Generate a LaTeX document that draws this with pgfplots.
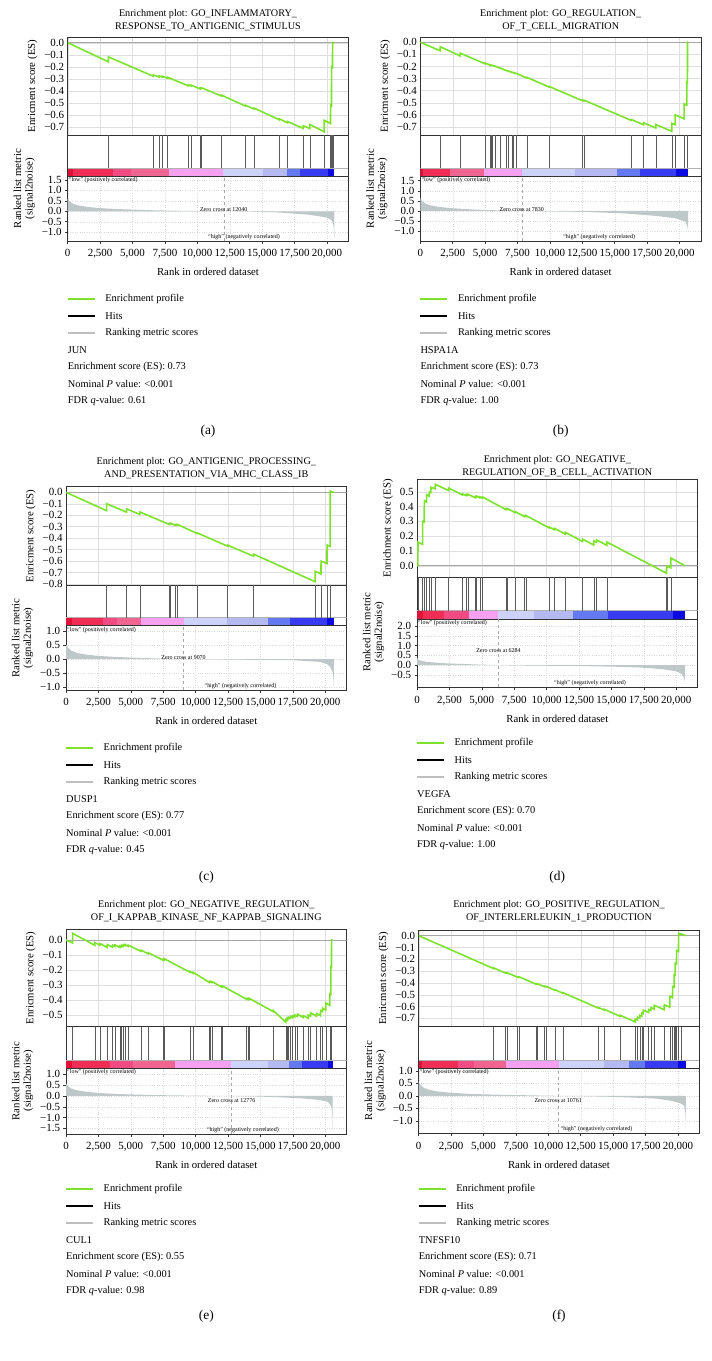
\documentclass[border=0pt]{standalone}
\usepackage{fontspec}
\setmainfont{Liberation Serif}
\usepackage{pgfplots}
\pgfplotsset{compat=1.18}

\definecolor{esgreen}{RGB}{124,226,44}
\definecolor{hitgray}{RGB}{90,90,90}
\definecolor{metgray}{RGB}{190,200,200}
\definecolor{c1}{RGB}{225,18,55}
\definecolor{c2}{RGB}{240,45,85}
\definecolor{c3}{RGB}{240,75,130}
\definecolor{c4}{RGB}{240,100,145}
\definecolor{c5}{RGB}{245,160,240}
\definecolor{c6}{RGB}{205,210,250}
\definecolor{c7}{RGB}{180,185,242}
\definecolor{c8}{RGB}{100,120,240}
\definecolor{c9}{RGB}{55,60,240}
\definecolor{c10}{RGB}{10,10,225}

\newcommand{\tkfont}{\fontsize{11}{12}\selectfont}
\newcommand{\lbfont}{\fontsize{10.8}{11.5}\selectfont}
\newcommand{\ttlfont}{\fontsize{10.2}{12.5}\selectfont}
\newcommand{\smfont}{\fontsize{6}{7}\selectfont}
\newcommand{\legfont}{\fontsize{10.4}{12}\selectfont}
\newcommand{\subfont}{\fontsize{13.5}{15}\selectfont}

\newcommand{\seg}[3]{\addplot[fill=#1, draw=none, forget plot] coordinates {(#2,-0.25) (#2,0) (#3,0) (#3,-0.25)};}

\newcommand{\legblock}[8]{%
\begin{scope}[shift={(#1bp,-#2bp)}, every node/.style={font=\legfont, anchor=west, inner sep=0pt}]
\draw[esgreen, line width=1.1bp] (0,0) -- (27bp,0);
\node at (37.5bp,0) {Enrichment profile};
\draw[black, line width=1.3bp] (0,-17bp) -- (27bp,-17bp);
\node at (37.5bp,-17bp) {Hits};
\draw[black!25, line width=1.1bp] (0,-34bp) -- (27bp,-34bp);
\node at (37.5bp,-34bp) {Ranking metric scores};
\node at (0,-51bp) {#3};
\node at (0,-68bp) {Enrichment score (ES): #4};
\node at (0,-85bp) {Nominal \textit{P} value: <0.001};
\node at (0,-102bp) {FDR \textit{q}-value: #5};
\end{scope}
\node[font=\subfont] at (#6bp,-#7bp) {(#8)};
}

\pgfplotsset{
 gbase/.style={scale only axis, width=280.6bp, xmin=0, xmax=21650, anchor=north west,
   scaled x ticks=false, scaled y ticks=false,
   axis line style={black!80, line width=0.6bp}, tick align=outside, tick pos=left,
   major tick length=2.5bp, tick style={black!80, line width=0.5bp},
   ticklabel style={font=\tkfont}, label style={font=\lbfont},
   xtick={0,2500,5000,7500,10000,12500,15000,17500,20000}},
 ges/.style={gbase, xticklabels={}, major tick length=0pt, grid=major,
   grid style={black!13, line width=0.4bp}, ylabel={Enricment score (ES)}},
 ghit/.style={gbase, ymin=-0.25, ymax=1, xtick=\empty, ytick=\empty},
 gmet/.style={gbase, grid=major, grid style={black!14, dotted, line width=0.4bp},
   xlabel={Rank in ordered dataset},
   xticklabel style={yshift=-2.5bp}, xlabel style={yshift=-3bp},
   xticklabels={0,{2,500},{5,000},{7,500},{10,000},{12,500},{15,000},{17,500},{20,000}},
   ylabel={Ranked list metric\\(signal2noise)}, ylabel style={align=center, at={(ticklabel cs:0.81)}}},
}

\begin{document}
\begin{tikzpicture}
\useasboundingbox (0,0) rectangle (712bp,-1361bp);

% ================= (a) =================
\node[font=\ttlfont, align=center] at (208bp,-20bp) {Enrichment plot: GO\_INFLAMMATORY\_\\RESPONSE\_TO\_ANTIGENIC\_STIMULUS};
\begin{axis}[ges, at={(67.7bp,-37.3bp)}, height=97.7bp, ymin=-0.767, ymax=0.045,
  ytick={-0.7,-0.6,-0.5,-0.4,-0.3,-0.2,-0.1,0}, yticklabels={−0.7,−0.6,−0.5,−0.4,−0.3,−0.2,−0.1,0.0}]
\addplot[black!35, line width=0.6bp, forget plot] coordinates {(0,0) (21650,0)};
\addplot[esgreen, line width=1.6bp] coordinates {(0,0) (3127,-0.158) (3137,-0.118) (6598,-0.278) (6608,-0.268) (7061,-0.285) (7071,-0.276) (7317,-0.287) (7327,-0.279) (7704,-0.295) (7714,-0.287) (9297,-0.358) (9307,-0.351) (9503,-0.359) (9513,-0.352) (10197,-0.383) (10207,-0.376) (10300,-0.381) (10310,-0.374) (11868,-0.443) (11878,-0.436) (13720,-0.527) (13730,-0.52) (14362,-0.55) (14372,-0.543) (16317,-0.64) (16327,-0.633) (16959,-0.665) (16969,-0.655) (18167,-0.712) (18177,-0.69) (18681,-0.713) (18691,-0.68) (19787,-0.74) (19797,-0.645) (20275,-0.672) (20285,-0.52) (20352,-0.525) (20362,-0.2) (20429,-0.205) (20439,0.0) (20570,0.0)};
\end{axis}
\begin{axis}[ghit, at={(67.7bp,-135bp)}, height=41.3bp]
\seg{c1}{0}{440}\seg{c2}{440}{3520}\seg{c3}{3520}{4890}\seg{c4}{4890}{7840}\seg{c5}{7840}{11950}
\seg{c6}{11950}{15080}\seg{c7}{15080}{16950}\seg{c8}{16950}{17950}\seg{c9}{17950}{20050}\seg{c10}{20050}{20570}
\addplot[black!30, line width=0.4bp] coordinates {(0,0) (21650,0)};
\addplot[ycomb, hitgray, line width=0.6bp] coordinates {(3137,1) (6608,1) (7071,1) (7327,1) (7714,1) (9307,1) (9513,1) (10207,1) (10310,1) (11878,1) (13730,1) (14372,1) (16327,1) (16969,1) (18177,1) (18691,1) (19797,1) (20285,1) (20362,1) (20439,1) (20491,1)};
\end{axis}
\begin{axis}[gmet, at={(67.7bp,-176.3bp)}, height=64.7bp, ymin=-1.42, ymax=1.67,
  ytick={-1,-0.5,0,0.5,1,1.5}, yticklabels={−1.0,−0.5,0.0,0.5,1.0,1.5}]
\addplot[fill=metgray, draw=none] coordinates {(0,0) (0,0.6) (150,0.47) (400,0.36) (800,0.28) (1500,0.21) (2500,0.15) (4000,0.1) (5000,0.08) (6500,0.05) (8000,0.03) (10000,0.013) (12040,0) (14000,-0.02) (16000,-0.05) (17000,-0.09) (18500,-0.16) (19200,-0.22) (20000,-0.3) (20350,-0.42) (20480,-0.58) (20540,-0.85) (20570,-1.3) (20570,0)};
\addplot[black!35, dashed, line width=0.4bp] coordinates {(12040,-1.42) (12040,1.67)};
\node[font=\smfont, anchor=north west, inner sep=1bp] at (rel axis cs:0,1) {``low'' (positively correlated)};
\node[font=\smfont, inner sep=0pt] at (axis cs:12040,0.1) {Zero cross at 12040};
\node[font=\smfont, anchor=south, inner sep=1bp] at (axis cs:13600,-1.42) {``high'' (negatively correlated)};
\end{axis}
\legblock{67.7}{299}{JUN}{0.73}{0.61}{208}{431}{a}

% ================= (b) =================
\node[font=\ttlfont, align=center] at (560.7bp,-20bp) {Enrichment plot: GO\_REGULATION\_\\OF\_T\_CELL\_MIGRATION};
\begin{axis}[ges, at={(420.3bp,-37.3bp)}, height=97.7bp, ymin=-0.766, ymax=0.041,
  ytick={-0.7,-0.6,-0.5,-0.4,-0.3,-0.2,-0.1,0}, yticklabels={−0.7,−0.6,−0.5,−0.4,−0.3,−0.2,−0.1,0.0}]
\addplot[black!35, line width=0.6bp, forget plot] coordinates {(0,0) (21650,0)};
\addplot[esgreen, line width=1.6bp] coordinates {(0,0) (1533,-0.07) (1543,-0.037) (3075,-0.113) (3085,-0.09) (5003,-0.178) (5013,-0.172) (5363,-0.188) (5373,-0.186) (5441,-0.19) (5451,-0.188) (5569,-0.193) (5579,-0.191) (5775,-0.2) (5785,-0.198) (6135,-0.214) (6145,-0.212) (6597,-0.233) (6607,-0.231) (6803,-0.24) (6813,-0.238) (7060,-0.249) (7070,-0.247) (7189,-0.252) (7199,-0.25) (7369,-0.258) (7379,-0.256) (8217,-0.295) (8227,-0.29) (9940,-0.37) (9950,-0.365) (12511,-0.483) (12521,-0.478) (12639,-0.484) (12649,-0.479) (16264,-0.645) (16274,-0.638) (17216,-0.681) (17226,-0.665) (18167,-0.708) (18177,-0.68) (19401,-0.736) (19411,-0.67) (19658,-0.681) (19668,-0.6) (20352,-0.632) (20362,-0.51) (20558,-0.52) (20568,-0.33) (20609,-0.332) (20619,0.0) (20670,0.0)};
\end{axis}
\begin{axis}[ghit, at={(420.3bp,-135bp)}, height=41.3bp]
\seg{c1}{0}{180}\seg{c2}{180}{2314}\seg{c4}{2314}{4885}\seg{c5}{4885}{7842}\seg{c6}{7842}{11955}
\seg{c7}{11955}{15143}\seg{c8}{15143}{16943}\seg{c9}{16943}{19720}\seg{c10}{19720}{20670}
\addplot[black!30, line width=0.4bp] coordinates {(0,0) (21650,0)};
\addplot[ycomb, hitgray, line width=0.6bp] coordinates {(1543,1) (3085,1) (5013,1) (5373,1) (5451,1) (5579,1) (5785,1) (6145,1) (6607,1) (6813,1) (7070,1) (7199,1) (7379,1) (8227,1) (9950,1) (12521,1) (12649,1) (16274,1) (17226,1) (18177,1) (19411,1) (19668,1) (20362,1) (20568,1) (20619,1)};
\end{axis}
\begin{axis}[gmet, at={(420.3bp,-176.3bp)}, height=64.7bp, ymin=-1.50, ymax=1.72,
  ytick={-1,-0.5,0,0.5,1,1.5}, yticklabels={−1.0,−0.5,0.0,0.5,1.0,1.5}]
\addplot[fill=metgray, draw=none] coordinates {(0,0) (0,0.65) (150,0.48) (400,0.36) (800,0.27) (1500,0.19) (2500,0.13) (4000,0.07) (5500,0.035) (7830,0) (10000,-0.025) (12500,-0.05) (15600,-0.12) (18200,-0.25) (19700,-0.37) (20450,-0.54) (20620,-0.8) (20670,-1.1) (20670,0)};
\addplot[black!35, dashed, line width=0.4bp] coordinates {(7830,-1.5) (7830,1.72)};
\node[font=\smfont, anchor=north west, inner sep=1bp] at (rel axis cs:0,1) {``low'' (positively correlated)};
\node[font=\smfont, inner sep=0pt] at (axis cs:7830,0.08) {Zero cross at 7830};
\node[font=\smfont, anchor=south, inner sep=1bp] at (axis cs:13800,-1.5) {``high'' (negatively correlated)};
\end{axis}
\legblock{420.3}{299}{HSPA1A}{0.73}{1.00}{560.7}{431}{b}

% ================= (c) =================
\node[font=\ttlfont, align=center] at (206.3bp,-468bp) {Enrichment plot: GO\_ANTIGENIC\_PROCESSING\_\\AND\_PRESENTATION\_VIA\_MHC\_CLASS\_IB};
\begin{axis}[ges, at={(66bp,-486.7bp)}, height=98.3bp, ymin=-0.809, ymax=0.049,
  ytick={-0.8,-0.7,-0.6,-0.5,-0.4,-0.3,-0.2,-0.1,0}, yticklabels={−0.8,−0.7,−0.6,−0.5,−0.4,−0.3,−0.2,−0.1,0.0}]
\addplot[black!35, line width=0.6bp, forget plot] coordinates {(0,0) (21650,0)};
\addplot[esgreen, line width=1.6bp] coordinates {(0,0) (3127,-0.16) (3137,-0.1) (4669,-0.173) (4679,-0.145) (5698,-0.193) (5708,-0.172) (7960,-0.28) (7970,-0.272) (8063,-0.277) (8073,-0.27) (8436,-0.288) (8446,-0.281) (8577,-0.287) (8587,-0.28) (10132,-0.36) (10142,-0.355) (12473,-0.47) (12483,-0.462) (14465,-0.557) (14475,-0.54) (19221,-0.78) (19231,-0.69) (19671,-0.712) (19681,-0.6) (20134,-0.622) (20144,-0.46) (20378,-0.472) (20388,0.01) (20697,0.0)};
\end{axis}
\begin{axis}[ghit, at={(66bp,-585bp)}, height=40.7bp]
\seg{c1}{0}{437}\seg{c2}{437}{2880}\seg{c3}{2880}{3908}\seg{c4}{3908}{5759}\seg{c5}{5759}{9101}
\seg{c6}{9101}{12444}\seg{c7}{12444}{15580}\seg{c8}{15580}{17277}\seg{c9}{17277}{20105}\seg{c10}{20105}{20670}
\addplot[black!30, line width=0.4bp] coordinates {(0,0) (21650,0)};
\addplot[ycomb, hitgray, line width=0.6bp] coordinates {(3137,1) (4679,1) (5708,1) (7970,1) (8073,1) (8446,1) (8587,1) (10142,1) (12483,1) (14475,1) (19231,1) (19681,1) (20144,1) (20388,1)};
\end{axis}
\begin{axis}[gmet, at={(66bp,-625.7bp)}, height=64.3bp, ymin=-1.095, ymax=1.18,
  ytick={-1,-0.5,0,0.5,1}, yticklabels={−1.0,−0.5,0.0,0.5,1.0}]
\addplot[fill=metgray, draw=none] coordinates {(0,0) (0,0.52) (150,0.4) (400,0.3) (800,0.22) (1500,0.16) (2500,0.11) (4000,0.07) (6000,0.035) (7500,0.015) (9070,0) (11000,-0.01) (13000,-0.02) (15000,-0.03) (17500,-0.04) (19600,-0.1) (20150,-0.18) (20370,-0.27) (20560,-0.45) (20620,-0.6) (20650,-0.8) (20670,-1.04) (20670,0)};
\addplot[black!35, dashed, line width=0.4bp] coordinates {(9070,-1.095) (9070,1.18)};
\node[font=\smfont, anchor=north west, inner sep=1bp] at (rel axis cs:0,1) {``low'' (positively correlated)};
\node[font=\smfont, inner sep=0pt] at (axis cs:9070,0.05) {Zero cross at 9070};
\node[font=\smfont, anchor=south, inner sep=1bp] at (axis cs:13460,-1.095) {``high'' (negatively correlated)};
\end{axis}
\legblock{66}{748}{DUSP1}{0.77}{0.45}{206.3}{877}{c}

% ================= (d) =================
\node[font=\ttlfont, align=center] at (557.3bp,-466bp) {Enrichment plot: GO\_NEGATIVE\_\\REGULATION\_OF\_B\_CELL\_ACTIVATION};
\begin{axis}[ges, ylabel={Enrichment score (ES)}, at={(417bp,-479.3bp)}, height=98bp, ymin=-0.078, ymax=0.584,
  ytick={0,0.1,0.2,0.3,0.4,0.5}, yticklabels={0.0,0.1,0.2,0.3,0.4,0.5}]
\addplot[black!35, line width=0.6bp, forget plot] coordinates {(0,0) (21650,0)};
\addplot[esgreen, line width=1.6bp] coordinates {(0,0) (67,0.0) (77,0.16) (427,0.145) (437,0.3) (556,0.295) (566,0.44) (736,0.43) (746,0.48) (941,0.47) (951,0.5) (1070,0.495) (1080,0.53) (1404,0.52) (1414,0.55) (2432,0.508) (2442,0.525) (3512,0.478) (3522,0.485) (3769,0.475) (3779,0.482) (3924,0.476) (3934,0.483) (4489,0.46) (4499,0.468) (4592,0.464) (4602,0.471) (4849,0.459) (4859,0.466) (5055,0.457) (5065,0.464) (6855,0.38) (6865,0.386) (6983,0.38) (6993,0.386) (7549,0.36) (7559,0.366) (8269,0.333) (8279,0.339) (8397,0.333) (8407,0.339) (10197,0.256) (10207,0.262) (10608,0.243) (10618,0.252) (11431,0.214) (11441,0.226) (12768,0.164) (12778,0.18) (13642,0.14) (13652,0.168) (13848,0.159) (13858,0.175) (14645,0.138) (14655,0.16) (19247,-0.05) (19257,-0.005) (19324,-0.009) (19334,-0.002) (19581,-0.014) (19591,0.052) (20670,0.0)};
\end{axis}
\begin{axis}[ghit, at={(417bp,-577.3bp)}, height=41.7bp]
\seg{c1}{0}{437}\seg{c2}{437}{2100}\seg{c3}{2100}{4040}\seg{c5}{4040}{6280}\seg{c6}{6280}{9050}
\seg{c7}{9050}{12000}\seg{c8}{12000}{14700}\seg{c9}{14700}{19720}\seg{c10}{19720}{20670}
\addplot[black!30, line width=0.4bp] coordinates {(0,0) (21650,0)};
\addplot[ycomb, hitgray, line width=0.6bp] coordinates {(77,1) (437,1) (566,1) (746,1) (951,1) (1080,1) (1414,1) (2442,1) (3522,1) (3779,1) (3934,1) (4499,1) (4602,1) (4859,1) (5065,1) (6865,1) (6993,1) (7559,1) (8279,1) (8407,1) (10207,1) (10618,1) (11441,1) (12778,1) (13652,1) (13858,1) (14655,1) (19257,1) (19334,1) (19591,1)};
\end{axis}
\begin{axis}[gmet, at={(417bp,-619bp)}, height=68.3bp, ymin=-1.14, ymax=2.36,
  ytick={-0.5,0,0.5,1,1.5,2}, yticklabels={−0.5,0.0,0.5,1.0,1.5,2.0}]
\addplot[fill=metgray, draw=none] coordinates {(0,0) (0,0.35) (150,0.26) (400,0.2) (800,0.16) (1500,0.12) (2500,0.08) (4000,0.045) (5200,0.018) (6284,0) (8000,-0.02) (10000,-0.035) (12500,-0.05) (15000,-0.08) (17000,-0.12) (18000,-0.16) (19000,-0.22) (20000,-0.32) (20400,-0.45) (20580,-0.62) (20640,-0.75) (20670,-0.88) (20670,0)};
\addplot[black!35, dashed, line width=0.4bp] coordinates {(6284,-1.14) (6284,2.36)};
\node[font=\smfont, anchor=north west, inner sep=1bp] at (rel axis cs:0,1) {``low'' (positively correlated)};
\node[font=\smfont, inner sep=0pt] at (axis cs:6284,0.72) {Zero cross at 6284};
\node[font=\smfont, anchor=south, inner sep=1bp] at (axis cs:13350,-1.14) {``high'' (negatively correlated)};
\end{axis}
\legblock{417}{743}{VEGFA}{0.70}{1.00}{557.3}{877}{d}

% ================= (e) =================
\node[font=\ttlfont, align=center] at (206.3bp,-911bp) {Enrichment plot: GO\_NEGATIVE\_REGULATION\_\\OF\_I\_KAPPAB\_KINASE\_NF\_KAPPAB\_SIGNALING};
\begin{axis}[ges, at={(66bp,-929.3bp)}, height=97.4bp, ymin=-0.578, ymax=0.071,
  ytick={-0.5,-0.4,-0.3,-0.2,-0.1,0}, yticklabels={−0.5,−0.4,−0.3,−0.2,−0.1,0.0}]
\addplot[black!35, line width=0.6bp, forget plot] coordinates {(0,0) (21650,0)};
\addplot[esgreen, line width=1.6bp] coordinates {(0,0) (504,-0.02) (514,0.044) (2227,-0.036) (2237,-0.018) (2612,-0.034) (2622,-0.024) (3178,-0.05) (3188,-0.03) (3589,-0.048) (3599,-0.035) (3769,-0.043) (3779,-0.033) (4155,-0.05) (4165,-0.04) (4284,-0.046) (4294,-0.036) (4412,-0.042) (4422,-0.032) (4541,-0.038) (4551,-0.03) (4798,-0.042) (4808,-0.035) (5775,-0.075) (5785,-0.068) (6341,-0.092) (6351,-0.085) (7497,-0.135) (7507,-0.128) (7574,-0.132) (7584,-0.125) (9554,-0.215) (9564,-0.21) (9811,-0.222) (9821,-0.216) (11045,-0.282) (11055,-0.277) (11148,-0.282) (11158,-0.277) (11277,-0.283) (11287,-0.278) (11996,-0.313) (12006,-0.308) (12074,-0.312) (12084,-0.307) (13925,-0.395) (13935,-0.39) (14053,-0.396) (14063,-0.391) (14130,-0.394) (14140,-0.389) (15982,-0.477) (15992,-0.47) (16959,-0.548) (16969,-0.53) (17061,-0.535) (17071,-0.52) (17164,-0.527) (17174,-0.515) (17319,-0.522) (17329,-0.51) (17473,-0.518) (17483,-0.505) (17653,-0.513) (17663,-0.5) (17859,-0.51) (17869,-0.495) (18296,-0.516) (18306,-0.505) (18682,-0.522) (18692,-0.5) (18862,-0.508) (18872,-0.485) (19324,-0.508) (19334,-0.49) (19633,-0.505) (19643,-0.47) (19787,-0.477) (19797,-0.455) (20044,-0.467) (20054,-0.42) (20352,-0.435) (20362,-0.36) (20429,-0.363) (20439,-0.18) (20481,-0.182) (20491,0.0) (20570,0.0)};
\end{axis}
\begin{axis}[ghit, at={(66bp,-1026.7bp)}, height=41.6bp]
\seg{c1}{0}{437}\seg{c2}{437}{3394}\seg{c3}{3394}{5194}\seg{c4}{5194}{8407}\seg{c5}{8407}{12726}
\seg{c6}{12726}{15606}\seg{c7}{15606}{17226}\seg{c8}{17226}{18177}\seg{c9}{18177}{20234}\seg{c10}{20234}{20570}
\addplot[black!30, line width=0.4bp] coordinates {(0,0) (21650,0)};
\addplot[ycomb, hitgray, line width=0.6bp] coordinates {(514,1) (2237,1) (2622,1) (3188,1) (3599,1) (3779,1) (4165,1) (4294,1) (4422,1) (4551,1) (4808,1) (5785,1) (6351,1) (7507,1) (7584,1) (9564,1) (9821,1) (11055,1) (11158,1) (11287,1) (12006,1) (12084,1) (13935,1) (14063,1) (14140,1) (15992,1) (16969,1) (17071,1) (17174,1) (17329,1) (17483,1) (17663,1) (17869,1) (18306,1) (18692,1) (18872,1) (19334,1) (19643,1) (19797,1) (20054,1) (20362,1) (20439,1) (20491,1)};
\end{axis}
\begin{axis}[gmet, at={(66bp,-1068.3bp)}, height=65.7bp, ymin=-1.76, ymax=1.28,
  ytick={-1.5,-1,-0.5,0,0.5,1}, yticklabels={−1.5,−1.0,−0.5,0.0,0.5,1.0}]
\addplot[fill=metgray, draw=none] coordinates {(0,0) (0,0.58) (150,0.45) (400,0.35) (800,0.27) (1500,0.2) (2500,0.14) (4000,0.09) (6000,0.055) (8000,0.03) (10000,0.015) (12776,0) (14500,-0.02) (16000,-0.05) (18000,-0.1) (19500,-0.18) (20200,-0.27) (20450,-0.45) (20520,-0.7) (20550,-1.1) (20570,-1.66) (20570,0)};
\addplot[black!35, dashed, line width=0.4bp] coordinates {(12776,-1.76) (12776,1.28)};
\node[font=\smfont, anchor=north west, inner sep=1bp] at (rel axis cs:0,1) {``low'' (positively correlated)};
\node[font=\smfont, inner sep=0pt] at (axis cs:12776,-0.22) {Zero cross at 12776};
\node[font=\smfont, anchor=south, inner sep=1bp] at (axis cs:13650,-1.76) {``high'' (negatively correlated)};
\end{axis}
\legblock{66}{1189}{CUL1}{0.55}{0.98}{206.3}{1316}{e}

% ================= (f) =================
\node[font=\ttlfont, align=center] at (559bp,-911bp) {Enrichment plot: GO\_POSITIVE\_REGULATION\_\\OF\_INTERLERLEUKIN\_1\_PRODUCTION};
\begin{axis}[ges, at={(418.7bp,-930bp)}, height=96.7bp, ymin=-0.771, ymax=0.048,
  ytick={-0.7,-0.6,-0.5,-0.4,-0.3,-0.2,-0.1,0}, yticklabels={−0.7,−0.6,−0.5,−0.4,−0.3,−0.2,−0.1,0.0}]
\addplot[black!35, line width=0.6bp, forget plot] coordinates {(0,0) (21650,0)};
\addplot[esgreen, line width=1.6bp] coordinates {(0,0) (5749,-0.277) (5759,-0.272) (6675,-0.316) (6685,-0.312) (6855,-0.32) (6865,-0.316) (7626,-0.352) (7636,-0.348) (7754,-0.353) (7764,-0.349) (9040,-0.41) (9050,-0.406) (9168,-0.412) (9178,-0.408) (9683,-0.432) (9693,-0.428) (9811,-0.433) (9821,-0.429) (10505,-0.462) (10515,-0.458) (11148,-0.488) (11158,-0.484) (13848,-0.613) (13858,-0.608) (14310,-0.63) (14320,-0.624) (15545,-0.683) (15555,-0.675) (16702,-0.73) (16712,-0.705) (16882,-0.713) (16892,-0.69) (17061,-0.698) (17071,-0.675) (17216,-0.682) (17226,-0.655) (17319,-0.66) (17329,-0.63) (17730,-0.65) (17740,-0.625) (17910,-0.633) (17920,-0.61) (18167,-0.622) (18177,-0.59) (18939,-0.627) (18949,-0.585) (19375,-0.605) (19385,-0.515) (19581,-0.525) (19591,-0.43) (19710,-0.436) (19720,-0.33) (19787,-0.333) (19797,-0.235) (19890,-0.24) (19900,-0.125) (20044,-0.132) (20054,0.02) (20224,0.012) (20234,0.015) (20620,0.0)};
\end{axis}
\begin{axis}[ghit, at={(418.7bp,-1026.7bp)}, height=41.6bp]
\seg{c1}{0}{257}\seg{c2}{257}{3008}\seg{c3}{3008}{4294}\seg{c4}{4294}{6736}\seg{c5}{6736}{10798}
\seg{c6}{10798}{14320}\seg{c7}{14320}{16249}\seg{c8}{16249}{17483}\seg{c9}{17483}{19977}\seg{c10}{19977}{20620}
\addplot[black!30, line width=0.4bp] coordinates {(0,0) (21650,0)};
\addplot[ycomb, hitgray, line width=0.6bp] coordinates {(5759,1) (6685,1) (6865,1) (7636,1) (7764,1) (9050,1) (9178,1) (9693,1) (9821,1) (10515,1) (11158,1) (13858,1) (14320,1) (15555,1) (16712,1) (16892,1) (17071,1) (17226,1) (17329,1) (17740,1) (17920,1) (18177,1) (18949,1) (19385,1) (19591,1) (19720,1) (19797,1) (19900,1) (20054,1) (20234,1)};
\end{axis}
\begin{axis}[gmet, at={(418.7bp,-1068.3bp)}, height=65bp, ymin=-1.50, ymax=1.10,
  ytick={-1,-0.5,0,0.5,1}, yticklabels={−1.0,−0.5,0.0,0.5,1.0}]
\addplot[fill=metgray, draw=none] coordinates {(0,0) (0,0.56) (150,0.42) (400,0.32) (800,0.24) (1500,0.17) (2500,0.12) (4000,0.075) (6000,0.045) (8000,0.025) (9500,0.01) (10761,0) (12500,-0.015) (14500,-0.035) (16500,-0.07) (18300,-0.11) (19500,-0.2) (20200,-0.3) (20490,-0.4) (20560,-0.6) (20600,-0.9) (20620,-1.4) (20620,0)};
\addplot[black!35, dashed, line width=0.4bp] coordinates {(10761,-1.5) (10761,1.1)};
\node[font=\smfont, anchor=north west, inner sep=1bp] at (rel axis cs:0,1) {``low'' (positively correlated)};
\node[font=\smfont, inner sep=0pt] at (axis cs:10761,-0.17) {Zero cross at 10761};
\node[font=\smfont, anchor=south, inner sep=1bp] at (axis cs:13720,-1.5) {``high'' (negatively correlated)};
\end{axis}
\legblock{418.7}{1189}{TNFSF10}{0.71}{0.89}{559}{1316}{f}

\end{tikzpicture}
\end{document}
